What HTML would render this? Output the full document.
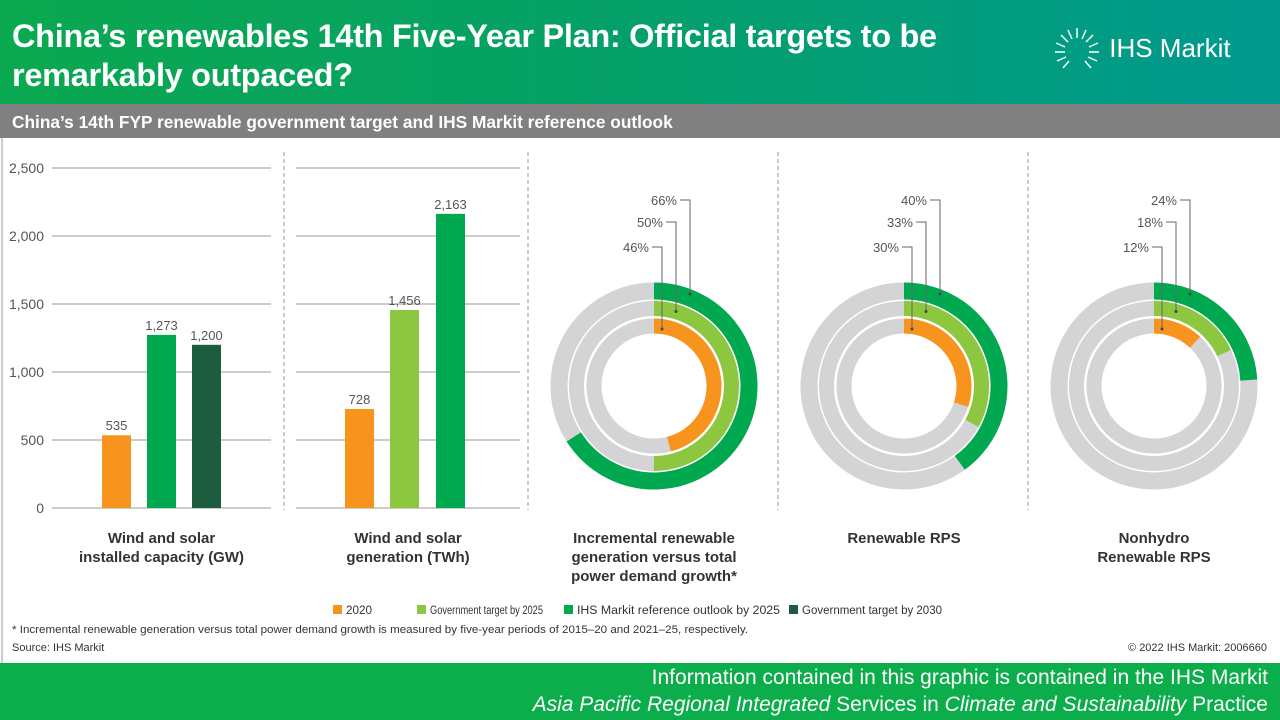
<!DOCTYPE html>
<html><head><meta charset="utf-8"><style>
body{margin:0;width:1280px;height:720px;overflow:hidden;font-family:"Liberation Sans",sans-serif;background:#fff;position:relative}
.hdr{position:absolute;left:0;top:0;width:1280px;height:104px;background:linear-gradient(90deg,#0aa84f 0%,#05a06a 50%,#00998f 100%)}
.title{position:absolute;left:12px;top:17px;color:#fff;font-weight:bold;font-size:32.5px;line-height:39px;letter-spacing:-0.3px;white-space:nowrap}
.logo{position:absolute;left:1052px;top:26px;color:#fff;font-size:26px}
.sub{position:absolute;left:0;top:104px;width:1280px;height:34px;background:#808080;color:#fff;font-weight:bold;font-size:17.3px;line-height:36px;padding-left:12px;box-sizing:border-box;white-space:nowrap}
.footer{position:absolute;left:0;top:663px;width:1280px;height:57px;background:#0cad4b;color:#fff;font-size:21px;text-align:right;padding-right:12px;box-sizing:border-box;line-height:27px;padding-top:1px;white-space:nowrap}
</style></head><body>
<div class="hdr">
<div class="title">China’s renewables 14th Five-Year Plan: Official targets to be<br>remarkably outpaced?</div>
<div class="logo"><svg width="50" height="48" viewBox="0 0 50 48" style="vertical-align:middle"><g stroke="#fff" stroke-width="1.5" fill="none"><path d="M25 2 L25 12 M34 4 L30 13 M41 9 L34 16 M46 17 L37 21 M47 26 L37 26 M45 35 L36 31 M39 42 L33 35 M16 4 L20 13 M9 9 L16 16 M4 17 L13 21 M3 26 L13 26 M5 35 L14 31 M11 42 L17 35"/></g></svg> IHS Markit</div>
</div>
<div class="sub">China’s 14th FYP renewable government target and IHS Markit reference outlook</div>
<svg id="chart" width="1280" height="525" style="position:absolute;left:0;top:138px"></svg>
<div class="footer">Information contained in this graphic is contained in the IHS Markit<br><i>Asia Pacific Regional Integrated</i> Services in <i>Climate and Sustainability</i> Practice</div>
<script>
const barCats1=["2020","IHS Markit reference outlook by 2025","Government target by 2030"];
const barVals1=[535,1273,1200];
const barCats2=["2020","Government target by 2025","IHS Markit reference outlook by 2025"];
const barVals2=[728,1456,2163];
const yTicks=[0,500,1000,1500,2000,2500];
const donutTitles=[["Incremental renewable","generation versus total","power demand growth*"],["Renewable RPS"],["Nonhydro","Renewable RPS"]];
const donut2020=[46,30,12];
const donutGov2025=[50,33,18];
const donutIhs2025=[66,40,24];
const legendNames=["2020","Government target by 2025","IHS Markit reference outlook by 2025","Government target by 2030"];
const C={"2020":"#f7941d","Government target by 2025":"#8dc63f","IHS Markit reference outlook by 2025":"#00a94f","Government target by 2030":"#1e5c3f"};
const svg=document.getElementById('chart');const NS="http://www.w3.org/2000/svg";const OY=138;
function mk(t,a,p){const e=document.createElementNS(NS,t);for(const k in a)e.setAttribute(k,a[k]);(p||svg).appendChild(e);return e;}
function tx(x,y,s,o){const e=mk('text',Object.assign({x:x,y:y-OY,'font-size':13,fill:'#555','font-family':'Liberation Sans, sans-serif'},o||{}));e.textContent=s;return e;}
const y0=508,pxPer=68/500;function Y(v){return y0-v*pxPer;}
mk('line',{x1:2,y1:0,x2:2,y2:525,stroke:'#999','stroke-width':1});
[284,528,778,1028].forEach(x=>{const l=mk('line',{x1:x,y1:152-OY,x2:x,y2:510-OY,stroke:'#999','stroke-dasharray':'4,3'});});
function barPanel(x1,x2,cats,vals,xs,title,axis){
 yTicks.forEach(t=>{const l=mk('line',{x1:x1,x2:x2,y1:Y(t)-OY,y2:Y(t)-OY,stroke:'#999'});
  if(axis){const e=tx(44,Y(t)+5,t.toLocaleString('en-US'),{'text-anchor':'end','font-size':14});}});
 vals.forEach((v,i)=>{const r=mk('rect',{x:xs[i],y:Y(v)-OY,width:29,height:v*pxPer,fill:C[cats[i]]});
  const e=tx(xs[i]+14.5,Y(v)-5,v.toLocaleString('en-US'),{'text-anchor':'middle'});});
 title.forEach((s,i)=>{const e=tx((x1+x2)/2,543+i*19,s,{'text-anchor':'middle','font-weight':'bold','font-size':15,fill:'#333'});});
}
barPanel(52,271,barCats1,barVals1,[102,147,192],["Wind and solar","installed capacity (GW)"],true);
barPanel(296,520,barCats2,barVals2,[345,390,436],["Wind and solar","generation (TWh)"],false);
function arc(cx,cy,r,p){if(p>=100)p=99.99;const a=p/100*2*Math.PI;const x=cx+r*Math.sin(a),y=cy-r*Math.cos(a);return `M${cx},${cy-r} A${r},${r} 0 ${p>50?1:0} 1 ${x},${y}`;}
const cxs=[654,904,1154],cy=386;
const rings=[{r:95,w:17,key:"IHS Markit reference outlook by 2025",arr:donutIhs2025,lx:36,ly:204},{r:77.5,w:15,key:"Government target by 2025",arr:donutGov2025,lx:22,ly:226},{r:60,w:15,key:"2020",arr:donut2020,lx:8,ly:251}];
cxs.forEach((cx,d)=>{
 rings.forEach(g=>{
  const bg=mk('circle',{cx:cx,cy:cy-OY,r:g.r,fill:'none',stroke:'#d4d4d6','stroke-width':g.w});
  const p=mk('path',{d:arc(cx,cy-OY,g.r,g.arr[d]),fill:'none',stroke:C[g.key],'stroke-width':g.w});
 });
 rings.forEach(g=>{
  const lx=cx+g.lx,ty=cy-g.r+3;
  mk('polyline',{points:`${cx+g.lx-10},${g.ly-4-OY} ${lx},${g.ly-4-OY} ${lx},${ty-OY}`,fill:'none',stroke:'#666','stroke-width':1});
  mk('circle',{cx:lx,cy:ty-OY,r:1.5,fill:'#444'});
  const e=tx(cx+g.lx-13,g.ly+1,g.arr[d]+'%',{'text-anchor':'end','font-size':13});
 });
 donutTitles[d].forEach((s,i)=>{const e=tx(cx,543+i*19,s,{'text-anchor':'middle','font-weight':'bold','font-size':15,fill:'#333'});});
});
const lx0=[333,417,564,789];
const lw=[26,113,203,140];
legendNames.forEach((n,i)=>{const r=mk('rect',{x:lx0[i],y:605-OY,width:9,height:9,fill:C[n]});
 const e=tx(lx0[i]+13,614,n,{'font-size':11.5,fill:'#333',textLength:lw[i],lengthAdjust:'spacingAndGlyphs'});});
let e=tx(12,633,"* Incremental renewable generation versus total power demand growth is measured by five-year periods of 2015–20 and 2021–25, respectively.",{'font-size':11,fill:'#333',textLength:736,lengthAdjust:'spacingAndGlyphs'});
e=tx(12,651,"Source: IHS Markit",{'font-size':11,fill:'#333'});
e=tx(1267,651,"© 2022 IHS Markit: 2006660",{'font-size':11,fill:'#333','text-anchor':'end'});
</script>
</body></html>
